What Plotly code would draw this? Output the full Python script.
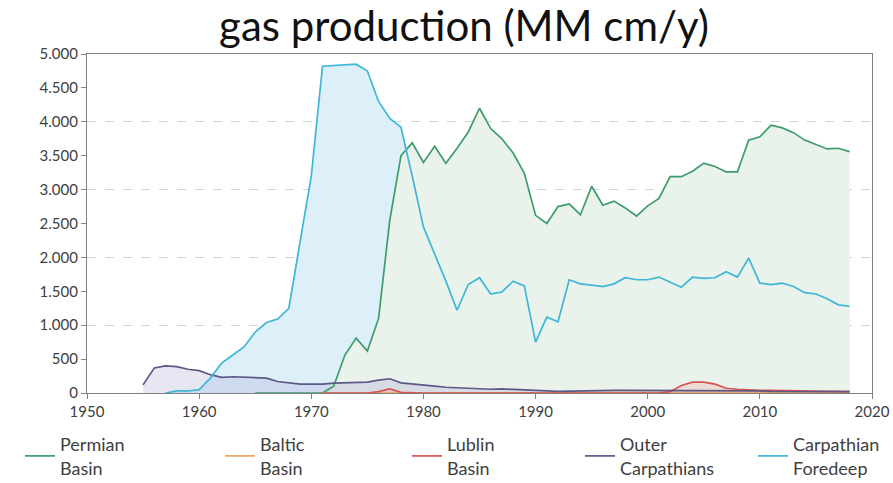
import plotly.graph_objects as go

# ---------------- data (MM cm / year) ----------------
foredeep_years = list(range(1957, 2019))
foredeep_vals = [0, 30, 30, 50, 220, 440, 560, 680, 900, 1040, 1090, 1250,
                 2230, 3200, 4820, 4830, 4840, 4850, 4750, 4300, 4050, 3920,
                 3200, 2450, 2050, 1650, 1220, 1600, 1700, 1460, 1490, 1650,
                 1580, 750, 1120, 1050, 1670, 1610, 1590, 1570, 1610, 1700,
                 1670, 1670, 1710, 1640, 1560, 1710, 1690, 1700, 1790, 1710,
                 1990, 1620, 1600, 1620, 1570, 1480, 1460, 1390, 1300, 1280]

permian_years = list(range(1965, 2019))
permian_vals = [0, 0, 0, 0, 0, 0, 0, 100, 560, 810, 620, 1100, 2550, 3500,
                3690, 3400, 3640, 3390, 3610, 3850, 4200, 3900, 3750, 3540,
                3240, 2620, 2500, 2750, 2790, 2630, 3050, 2770, 2830, 2730,
                2610, 2760, 2870, 3190, 3190, 3270, 3390, 3340, 3260, 3260,
                3730, 3780, 3950, 3910, 3840, 3730, 3670, 3600, 3610, 3560]

outer_years = list(range(1955, 2019))
outer_vals = [120, 370, 400, 390, 350, 330, 270, 230, 240, 230, 220, 220,
              170, 150, 130, 130, 130, 145, 150, 150, 160, 190, 210, 150,
              130, 115, 100, 85, 75, 70, 60, 55, 60, 50, 45, 40, 30, 25,
              30, 35, 35, 40, 40, 40, 40, 35, 30, 30, 30, 30, 35, 35, 30,
              30, 30, 30, 25, 25, 25, 20, 20, 20, 20, 20]

lublin_years = list(range(1971, 2019))
lublin_vals = [0, 0, 0, 0, 0, 20, 60, 10, 0, 0, 0, 0, 0, 0, 0, 0, 0, 0, 0,
               0, 0, 0, 0, 0, 0, 0, 0, 0, 0, 0, 0, 20, 110, 160, 160, 130,
               70, 55, 45, 40, 40, 35, 35, 30, 30, 25, 25, 20]

baltic_years = list(range(1971, 2019))
baltic_vals = [0, 0, 0, 0, 0, 0, 0, 0, 0, 0, 0, 0, 0, 0, 0, 0, 0, 0, 0,
               0, 0, 5, 10, 10, 10, 10, 10, 10, 10, 10, 10, 10, 10, 10, 10,
               10, 10, 10, 10, 10, 10, 10, 10, 10, 10, 10, 10, 10]

x_ticks = [1950, 1960, 1970, 1980, 1990, 2000, 2010, 2020]
y_ticks = [0, 500, 1000, 1500, 2000, 2500, 3000, 3500, 4000, 4500, 5000]

FONT = "Lato"
W, H = 893, 483
ML, MR, MT, MB = 87, 21, 54, 90
PW, PH = W - ML - MR, H - MT - MB

data = {
    "Permian<br>Basin": (permian_years, permian_vals),
    "Baltic<br>Basin": (baltic_years, baltic_vals),
    "Lublin<br>Basin": (lublin_years, lublin_vals),
    "Outer<br>Carpathians": (outer_years, outer_vals),
    "Carpathian<br>Foredeep": (foredeep_years, foredeep_vals),
}
line_col = {
    "Permian<br>Basin": "#3c9c6c",
    "Baltic<br>Basin": "#eaa860",
    "Lublin<br>Basin": "#d9534f",
    "Outer<br>Carpathians": "#5c5887",
    "Carpathian<br>Foredeep": "#3fb6d8",
}
fill_col = {
    "Carpathian<br>Foredeep": "#ddf0fa",
    "Permian<br>Basin": "#e9f3ec",
    "Outer<br>Carpathians": "rgba(150,140,200,0.22)",
    "Lublin<br>Basin": "rgba(240,140,140,0.22)",
    "Baltic<br>Basin": "rgba(240,180,110,0.15)",
}
fill_order = ["Carpathian<br>Foredeep", "Permian<br>Basin",
              "Outer<br>Carpathians", "Lublin<br>Basin", "Baltic<br>Basin"]
line_order = ["Permian<br>Basin", "Baltic<br>Basin", "Lublin<br>Basin",
              "Outer<br>Carpathians", "Carpathian<br>Foredeep"]

fig = go.Figure()

# filled areas (no outline) underneath
for name in fill_order:
    xs, ys = data[name]
    fig.add_trace(go.Scatter(
        x=xs, y=ys, mode="lines", line=dict(width=0, color=fill_col[name]),
        fill="tozeroy", fillcolor=fill_col[name],
        showlegend=False, hoverinfo="skip"))

# lines on top, each with its own legend box
legend_ids = ["legend", "legend2", "legend3", "legend4", "legend5"]
for name, lid in zip(line_order, legend_ids):
    xs, ys = data[name]
    fig.add_trace(go.Scatter(
        x=xs, y=ys, name=name, mode="lines",
        line=dict(color=line_col[name], width=1.7),
        legend=lid, showlegend=True))

# invisible helper trace so the gridline axis is rendered
fig.add_trace(go.Scatter(x=[1950], y=[0], yaxis="y2", mode="lines",
                         showlegend=False, hoverinfo="skip",
                         line=dict(width=0)))

# legend text left positions (px) in the reference
legend_text_x = [60, 260, 447, 620, 793]
legend_top_px = 426
legend_common = dict(orientation="v", xref="paper", yref="paper",
                     xanchor="left", yanchor="top",
                     y=(H - MB - legend_top_px) / PH,
                     font=dict(family=FONT, size=18, color="#404040"),
                     bgcolor="rgba(0,0,0,0)", borderwidth=0)
legends = {}
for lid, tx in zip(legend_ids, legend_text_x):
    legends[lid] = dict(legend_common, x=(tx - 40 - ML) / PW)

axis_common = dict(ticks="outside", ticklen=5, tickcolor="#808080",
                   showline=True, linecolor="#808080", linewidth=1.2,
                   mirror=True, showgrid=False, zeroline=False,
                   automargin=False,
                   tickfont=dict(family=FONT, size=15, color="#404040"))

fig.update_layout(
    width=W, height=H,
    margin=dict(l=ML, r=MR, t=MT, b=MB, autoexpand=False),
    paper_bgcolor="white", plot_bgcolor="white",
    separators=",.",
    font=dict(family=FONT, color="#404040", size=15),
    title=dict(text="gas production (MM cm/y)", x=464 / W, xanchor="center",
               y=1 - 26 / H, yanchor="middle",
               font=dict(family=FONT, size=42, color="#111111")),
    showlegend=True,
    xaxis=dict(axis_common, range=[1950, 2020], tickvals=x_ticks),
    yaxis=dict(axis_common, range=[0, 5000], tickvals=y_ticks,
               tickformat=",d"),
    yaxis2=dict(overlaying="y", matches="y", range=[0, 5000], dtick=1000,
                showticklabels=False, showgrid=True, gridcolor="#d4d4d4",
                griddash="dash", gridwidth=1, zeroline=False, showline=False,
                automargin=False),
    **legends,
)

fig.write_html("out.html",
               config={"displayModeBar": False},
               post_script="document.body.style.margin='0px';"
                           "document.body.style.padding='0px';")
